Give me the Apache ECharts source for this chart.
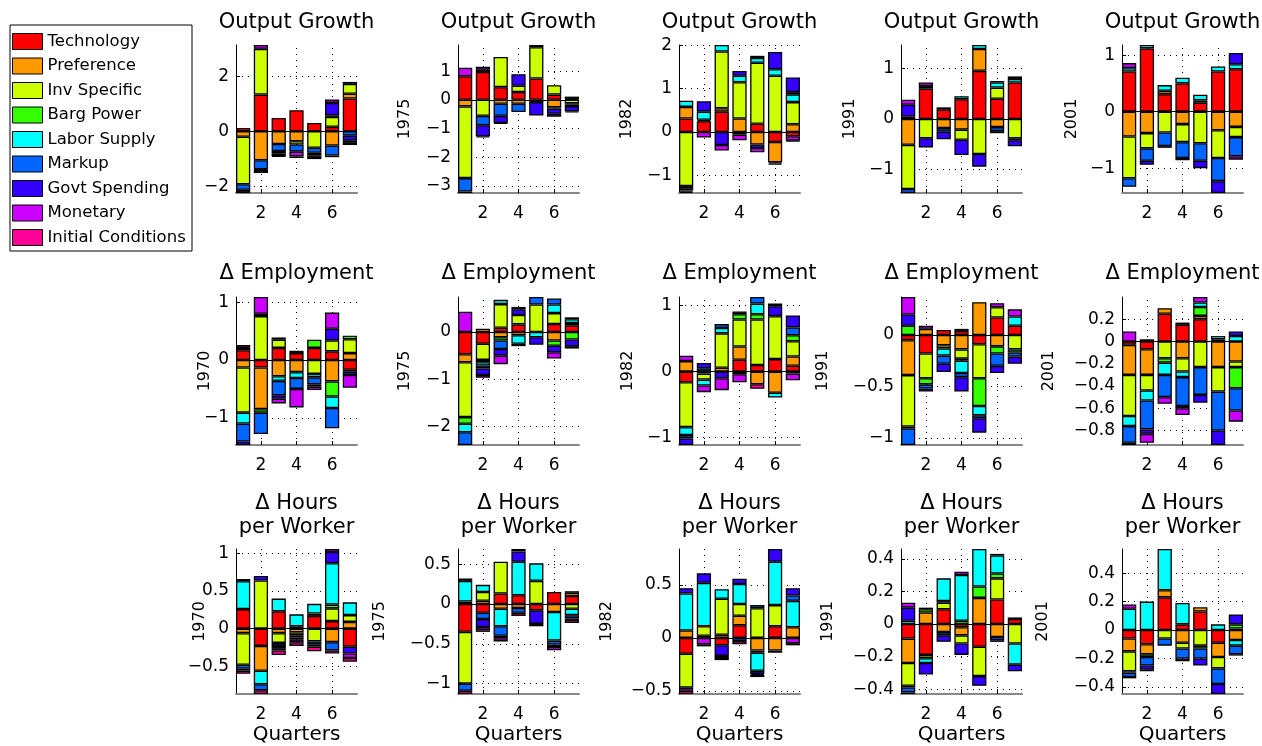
<!DOCTYPE html>
<html>
<head>
<meta charset="utf-8">
<script src="https://cdn.jsdelivr.net/npm/echarts@6/dist/echarts.min.js"></script>
<style>
html, body { margin: 0; padding: 0; background: #fff; }
#chart { width: 1262px; height: 746px; }
</style>
</head>
<body>
<div id="chart"></div>
<script>
// shock names and colours (stack order)
const shocks = ['Technology', 'Preference', 'Inv Specific', 'Barg Power', 'Labor Supply',
    'Markup', 'Govt Spending', 'Monetary', 'Initial Conditions']
const colors = ['#ff0000', '#ff9900', '#ccff00', '#33ff00', '#00ffff',
    '#0066ff', '#3300ff', '#cc00ff', '#ff0099']

const quarters = [1, 2, 3, 4, 5, 6, 7]
const rowTitles = ['Output Growth', 'Δ Employment', 'Δ Hours\nper Worker']
const years = ['1970', '1975', '1982', '1991', '2001']

// each panel: one row per shock, one value per quarter
const og1970 = [
    [0.12, 1.33, 0.48, 0.76, 0.30, 0.16, 1.19],
    [-0.20, -1.05, -0.46, -0.36, 0, -0.52, 0.17],
    [-1.72, 1.66, 0, -0.12, -0.60, 0.36, 0.36],
    [0, 0, 0, 0, 0, 0, 0],
    [0, 0, 0, 0, 0, 0.06, 0.07],
    [-0.20, -0.33, -0.26, -0.26, -0.18, -0.36, -0.16],
    [0, -0.03, -0.10, 0, -0.09, 0.45, -0.18],
    [-0.05, 0.14, -0.08, -0.17, -0.06, 0.12, -0.08],
    [-0.07, -0.10, -0.02, -0.06, -0.08, -0.06, -0.08]
]
const og1975 = [
    [0.82, 0.97, 0.44, 0.27, 0.74, 0.18, 0.03],
    [-0.23, 0.08, -0.14, -0.14, 0, -0.26, 0.08],
    [-2.50, -0.56, 1.05, 0.22, 1.09, 0.33, -0.12],
    [0, 0, 0, 0, 0, 0, -0.05],
    [0, 0, 0, 0, 0.08, 0, 0],
    [-0.47, -0.33, -0.42, -0.29, -0.08, -0.05, -0.05],
    [0, -0.38, -0.25, 0.40, -0.47, -0.18, -0.18],
    [0.30, 0.10, 0, 0, 0, -0.10, -0.04],
    [-0.05, -0.04, -0.03, 0, 0, 0, 0]
]
const og1982 = [
    [0.31, 0.25, 0.47, 0, 0.19, -0.23, -0.10],
    [0.27, 0, 0.08, 0.31, -0.29, -0.47, 0.18],
    [-1.25, 0.03, 1.31, 0.84, 1.41, 1.30, 0.51],
    [0, 0, 0, 0, 0, 0, 0],
    [0.14, 0.19, 0.15, 0.15, 0.11, 0.15, 0.18],
    [-0.05, 0, 0, -0.06, 0.05, 0, 0.05],
    [-0.05, 0.24, -0.30, 0.11, -0.08, 0.40, 0.34],
    [-0.03, -0.13, -0.13, -0.13, -0.10, -0.03, -0.10],
    [-0.03, 0, 0, 0, 0, -0.03, -0.02]
]
const og1991 = [
    [0, 0.60, 0.19, 0.39, 0.95, 0.40, 0.72],
    [-0.51, 0.05, -0.18, -0.21, 0.43, -0.16, 0],
    [-0.87, -0.38, 0, -0.20, -0.69, 0.22, -0.38],
    [0.05, 0, 0.04, 0, 0, 0, 0],
    [0, 0, 0, 0.06, 0.08, 0.10, 0.07],
    [-0.08, 0, -0.07, 0, 0, -0.08, -0.04],
    [0.23, -0.18, -0.15, -0.30, -0.25, -0.04, -0.12],
    [0.10, 0.07, 0, 0, 0, 0.03, 0.05],
    [0, 0, 0, 0, 0, 0, 0]
]
const og2001 = [
    [0.71, 1.12, 0.31, 0.50, 0.16, 0.71, 0.75],
    [-0.44, -0.38, 0.06, -0.22, 0.04, -0.33, -0.27],
    [-0.74, -0.27, -0.37, -0.32, -0.56, -0.49, -0.18],
    [0, 0, 0, 0, 0, 0, 0],
    [0.06, 0.06, 0.10, 0.10, 0.10, 0.09, 0.09],
    [-0.15, -0.22, -0.24, -0.28, -0.31, -0.41, -0.34],
    [0, -0.07, 0, 0, -0.13, -0.21, 0.20],
    [0.09, 0, -0.03, -0.04, 0, 0, -0.06],
    [0, 0, 0, 0, 0, 0, 0]
]
const emp1970 = [
    [0.17, -0.13, 0.21, 0.12, 0.21, 0.15, -0.17],
    [-0.13, -0.72, -0.28, -0.21, 0, -0.37, 0.12],
    [-0.78, 0.76, 0.14, 0, -0.24, 0.19, 0.24],
    [0.04, -0.06, 0.04, 0.04, 0.14, -0.26, 0.06],
    [-0.19, 0.04, -0.08, -0.10, -0.06, -0.20, -0.03],
    [-0.31, -0.37, -0.25, -0.19, -0.12, -0.35, 0],
    [-0.06, 0, -0.06, 0, -0.04, 0.20, -0.06],
    [0, 0.29, -0.08, -0.32, -0.06, 0.28, -0.22],
    [0.05, 0, 0, 0, 0, 0, 0]
]
const emp1975 = [
    [-0.47, -0.25, 0.09, 0.16, 0, 0.17, 0.14],
    [-0.17, 0.07, -0.11, -0.07, 0, -0.18, 0.05],
    [-1.16, -0.34, 0.50, 0.20, 0.58, 0.23, 0],
    [-0.14, -0.05, -0.07, 0, 0, -0.11, -0.16],
    [-0.18, -0.07, 0.09, -0.18, -0.11, 0.18, 0.08],
    [-0.27, -0.06, -0.18, -0.05, 0.16, 0.13, 0.04],
    [0, -0.14, -0.14, 0.12, -0.16, -0.14, -0.14],
    [0.43, -0.06, -0.18, 0.05, 0, -0.13, -0.05],
    [0, 0, 0, 0, 0, 0, 0]
]
const emp1982 = [
    [-0.16, 0, 0, 0.18, 0.10, 0.19, 0.09],
    [0.16, -0.03, 0.06, 0.20, -0.19, -0.32, 0.14],
    [-0.68, -0.09, 0.52, 0.41, 0.69, 0.65, 0.23],
    [0, 0, 0, 0.08, 0.08, 0, 0.09],
    [-0.12, -0.09, 0.08, 0, 0.16, -0.07, -0.03],
    [-0.05, 0.05, 0.06, -0.04, 0.10, 0, 0.12],
    [-0.10, 0.08, -0.10, 0.04, 0, 0.15, 0.18],
    [0.08, -0.10, -0.18, -0.12, 0, 0.04, -0.10],
    [0, 0, 0, 0, -0.07, 0, 0]
]
const emp1991 = [
    [-0.05, -0.18, 0.05, 0.04, -0.09, 0.17, 0.09],
    [-0.34, 0.06, -0.10, -0.14, 0.32, -0.11, 0],
    [-0.50, -0.24, -0.03, -0.09, -0.33, 0.10, -0.14],
    [0.09, -0.06, 0, -0.02, -0.27, -0.07, -0.03],
    [-0.02, 0, -0.07, -0.12, -0.09, 0, 0.09],
    [-0.16, -0.04, -0.08, -0.04, -0.03, -0.12, -0.04],
    [0.11, -0.03, -0.08, -0.14, -0.14, -0.07, -0.07],
    [0.17, 0.03, 0, 0.02, 0, 0.04, 0.07],
    [0, 0, 0, 0, 0, 0, 0]
]
const emp2001 = [
    [-0.03, -0.07, 0.25, 0.15, 0.20, 0.02, 0],
    [-0.27, -0.23, 0.05, -0.15, 0.03, -0.23, -0.18],
    [-0.37, -0.14, -0.15, -0.12, -0.23, -0.22, -0.05],
    [0, 0.02, -0.04, 0.02, 0.08, 0, -0.19],
    [-0.09, -0.09, -0.11, -0.05, 0.04, 0.03, 0.05],
    [-0.15, -0.26, -0.20, -0.26, -0.25, -0.35, -0.20],
    [-0.02, -0.04, 0, -0.02, -0.07, -0.13, 0.04],
    [0.09, -0.08, -0.06, -0.06, 0.05, 0, -0.10],
    [0, 0, 0, 0, 0, 0, 0]
]
const hrs1970 = [
    [0.26, -0.23, 0.23, 0.03, 0.17, 0.10, -0.24],
    [-0.06, -0.33, -0.06, -0.05, 0.03, -0.18, 0.09],
    [-0.42, 0.64, -0.13, -0.04, -0.17, 0.17, 0.09],
    [0, 0, 0, 0, 0, 0.05, 0],
    [0.37, -0.18, 0.17, 0.16, 0.13, 0.55, 0.17],
    [-0.05, -0.08, -0.04, -0.03, -0.04, -0.11, 0],
    [0.03, 0.06, -0.03, -0.02, -0.03, 0.15, -0.09],
    [-0.03, 0, -0.03, -0.04, 0, 0.04, -0.06],
    [-0.04, -0.05, -0.06, -0.05, -0.06, -0.04, -0.05]
]
const hrs1975 = [
    [-0.35, -0.11, 0.13, 0.11, -0.08, 0.15, 0.10],
    [0, 0.04, -0.06, -0.05, 0, -0.10, 0.04],
    [-0.65, 0.11, 0.40, 0, 0.29, 0, -0.06],
    [0.03, 0, 0, 0, 0, 0, 0.02],
    [0.26, 0.09, -0.22, 0.42, 0.22, -0.36, -0.08],
    [-0.09, -0.08, -0.12, -0.06, 0, -0.05, -0.04],
    [0, -0.10, -0.03, 0.13, -0.17, -0.03, -0.02],
    [0.03, -0.04, -0.04, 0.03, 0, -0.04, 0],
    [-0.04, -0.02, 0, -0.04, -0.03, 0, -0.04]
]
const hrs1982 = [
    [-0.15, 0, -0.07, 0.12, 0, 0.11, 0],
    [0.07, 0.02, 0.03, 0.09, -0.12, -0.12, 0.10],
    [-0.32, 0.09, 0.34, 0.11, 0.28, 0.20, 0],
    [0, 0, 0, 0, -0.02, 0, 0],
    [0.35, 0.41, 0.09, 0.19, -0.17, 0.41, 0.25],
    [0, 0, 0, -0.03, 0.03, 0, 0.05],
    [0.05, 0.09, -0.10, 0.05, -0.03, 0.12, 0.07],
    [-0.03, -0.06, -0.02, 0, -0.01, 0, -0.05],
    [-0.03, -0.02, -0.02, -0.03, -0.02, -0.02, -0.02]
]
const hrs1991 = [
    [-0.09, -0.19, 0.09, -0.02, -0.14, 0.15, 0.03],
    [-0.15, 0.07, -0.05, -0.05, 0.16, -0.08, 0],
    [-0.14, -0.02, 0.04, -0.05, -0.18, 0.13, -0.12],
    [-0.01, 0.02, 0.01, 0.02, 0.07, 0.03, 0],
    [0.02, -0.03, 0.14, 0.28, 0.23, 0.11, -0.13],
    [-0.03, 0.01, -0.02, 0, 0, -0.02, 0],
    [0.08, -0.07, -0.04, -0.07, -0.06, -0.01, -0.04],
    [0.03, 0, 0, 0.02, 0, 0.01, 0.01],
    [-0.01, 0, 0, 0, 0, 0, 0]
]
const hrs2001 = [
    [-0.06, -0.10, 0.23, 0.04, 0.13, -0.09, 0],
    [-0.09, -0.07, 0.05, -0.09, 0.03, -0.10, -0.07],
    [-0.14, 0, -0.06, -0.04, -0.11, -0.08, 0.01],
    [-0.01, -0.02, 0, 0, -0.02, 0, 0.03],
    [0.15, 0.20, 0.29, 0.15, 0, 0.04, -0.04],
    [-0.03, -0.06, -0.05, -0.07, -0.07, -0.11, -0.06],
    [-0.01, -0.03, 0, -0.02, -0.05, -0.07, 0.07],
    [0.03, -0.01, 0, 0, 0, 0, -0.01],
    [0, 0, 0, 0, 0, 0, 0]
]

const panelData = [
    [og1970, og1975, og1982, og1991, og2001],
    [emp1970, emp1975, emp1982, emp1991, emp2001],
    [hrs1970, hrs1975, hrs1982, hrs1991, hrs2001]
]

// y tick labels per panel
const yTicks = [
    [[-2, 0, 2], [-3, -2, -1, 0, 1], [-1, 0, 1, 2], [-1, 0, 1], [-1, 0, 1]],
    [[-1, 0, 1], [-2, -1, 0], [-1, 0, 1], [-1, -0.5, 0], [-0.8, -0.6, -0.4, -0.2, 0, 0.2]],
    [[-0.5, 0, 0.5, 1], [-1, -0.5, 0, 0.5], [-0.5, 0, 0.5], [-0.4, -0.2, 0, 0.2, 0.4], [-0.4, -0.2, 0, 0.2, 0.4]]
]
const xTicks = [2, 4, 6]

// layout
const colLeft = [236, 458, 679, 901, 1122]
const rowTop = [45, 297, 549]
const plotW = 121
const plotH = 148
const titleTop = [11, 262, 492]
const nameGaps = [[0, 45, 44, 43, 42], [23, 45, 43, 70, 65], [28, 70, 64, 65, 71]]
const font = 'DejaVu Sans'
const barW = plotW / 6.8 * 0.8

const minus = (v) => String(v).replace('-', '\u2212')

let grid = [], xAxis = [], yAxis = [], series = [], title = []

panelData.forEach((row, r) => {
    row.forEach((d, c) => {
        const idx = grid.length
        grid.push({ left: colLeft[c], top: rowTop[r], width: plotW, height: plotH })

        // tight y range like matlab axis tight
        let ymin = 0, ymax = 0
        quarters.forEach((q, i) => {
            let pos = 0, neg = 0
            d.forEach((s) => { if (s[i] > 0) pos += s[i]; else neg += s[i] })
            ymax = Math.max(ymax, pos)
            ymin = Math.min(ymin, neg)
        })

        title.push({
            text: rowTitles[r],
            left: colLeft[c] + plotW / 2,
            top: titleTop[r],
            textAlign: 'center',
            padding: 0,
            textStyle: { fontFamily: font, fontSize: 21, fontWeight: 'normal', color: '#000', lineHeight: 24 }
        })

        xAxis.push({
            gridIndex: idx,
            type: 'value',
            min: 0.6,
            max: 7.4,
            name: r === 2 ? 'Quarters' : '',
            nameLocation: 'middle',
            nameGap: 31,
            nameTextStyle: { fontFamily: font, fontSize: 20, color: '#000' },
            axisLine: { show: true, onZero: false, lineStyle: { color: '#888', width: 2 } },
            axisTick: { show: true, inside: true, length: 4, customValues: xTicks, lineStyle: { color: '#000' } },
            axisLabel: { customValues: xTicks, fontFamily: font, fontSize: 17, color: '#000', margin: 12 },
            splitLine: { show: false }
        })

        yAxis.push({
            gridIndex: idx,
            type: 'value',
            min: ymin,
            max: ymax,
            name: (r === 0 && c === 0) ? '' : years[c],
            nameLocation: 'middle',
            nameGap: nameGaps[r][c],
            nameMoveOverlap: false,
            nameTextStyle: { fontFamily: font, fontSize: 16, color: '#000' },
            axisLine: { show: true, onZero: false, lineStyle: { color: '#000', width: 1 } },
            axisTick: { show: true, inside: true, length: 4, customValues: yTicks[r][c], lineStyle: { color: '#000' } },
            axisLabel: { customValues: yTicks[r][c], fontFamily: font, fontSize: 17, color: '#000', margin: 7, formatter: minus },
            splitLine: { show: false }
        })

        // stacked bars, value first so the stack runs on y
        d.forEach((vals, k) => {
            series.push({
                type: 'bar',
                name: shocks[k],
                xAxisIndex: idx,
                yAxisIndex: idx,
                stack: 'panel' + idx,
                barWidth: barW,
                z: 2,
                encode: { x: 1, y: 0 },
                data: vals.map((v, i) => [v === 0 ? '-' : v, quarters[i]]),
                itemStyle: { color: colors[k], borderColor: '#000', borderWidth: 1.3 }
            })
        })

        // dotted grid lines
        series.push({
            type: 'line',
            xAxisIndex: idx,
            yAxisIndex: idx,
            data: [[1, 0]],
            showSymbol: false,
            silent: true,
            lineStyle: { opacity: 0 },
            markLine: {
                z: 1,
                silent: true,
                symbol: 'none',
                label: { show: false },
                lineStyle: { color: '#000', width: 1, type: [1, 5] },
                data: xTicks.map((v) => ({ xAxis: v })).concat(yTicks[r][c].filter((v) => v !== 0).map((v) => ({ yAxis: v })))
            }
        })

        // zero line
        series.push({
            type: 'line',
            xAxisIndex: idx,
            yAxisIndex: idx,
            data: [[1, 0]],
            showSymbol: false,
            silent: true,
            lineStyle: { opacity: 0 },
            markLine: {
                z: 6,
                silent: true,
                symbol: 'none',
                label: { show: false },
                lineStyle: { color: '#000', width: 1, type: 'solid' },
                data: [{ yAxis: 0 }]
            }
        })
    })
})

let option = {
    animation: false,
    backgroundColor: '#fff',
    title: title,
    legend: {
        data: shocks,
        orient: 'vertical',
        left: 12,
        top: 33,
        padding: 0,
        icon: 'rect',
        itemWidth: 30,
        itemHeight: 16,
        itemGap: 7.5,
        selectedMode: false,
        itemStyle: { borderColor: '#000', borderWidth: 1 },
        textStyle: { fontFamily: font, fontSize: 16.5, color: '#000', lineHeight: 16 }
    },
    graphic: [{
        type: 'rect',
        shape: { x: 10, y: 25, width: 182, height: 226 },
        style: { fill: 'none', stroke: '#000', lineWidth: 1 }
    }],
    grid: grid,
    xAxis: xAxis,
    yAxis: yAxis,
    series: series
}

let chart = echarts.init(document.getElementById('chart'))
chart.setOption(option)
</script>
</body>
</html>
